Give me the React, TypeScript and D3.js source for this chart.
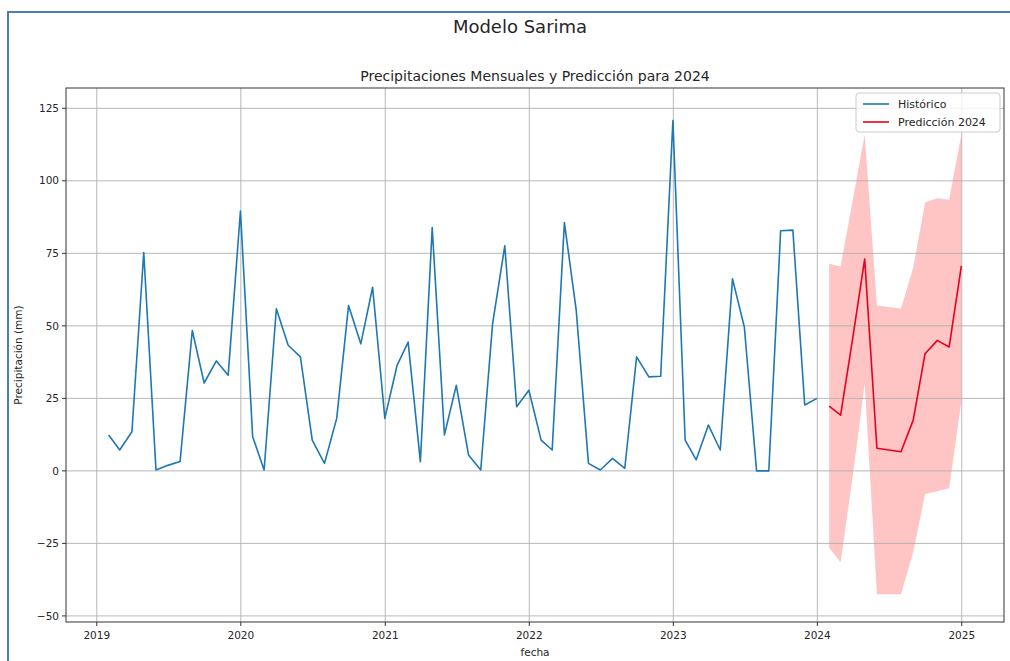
import * as d3 from "d3";

// meses del histórico (fin de mes)
const mesesHistorico = [
  "2019-01", "2019-02", "2019-03", "2019-04", "2019-05", "2019-06", "2019-07", "2019-08", "2019-09", "2019-10", "2019-11", "2019-12",
  "2020-01", "2020-02", "2020-03", "2020-04", "2020-05", "2020-06", "2020-07", "2020-08", "2020-09", "2020-10", "2020-11", "2020-12",
  "2021-01", "2021-02", "2021-03", "2021-04", "2021-05", "2021-06", "2021-07", "2021-08", "2021-09", "2021-10", "2021-11", "2021-12",
  "2022-01", "2022-02", "2022-03", "2022-04", "2022-05", "2022-06", "2022-07", "2022-08", "2022-09", "2022-10", "2022-11", "2022-12",
  "2023-01", "2023-02", "2023-03", "2023-04", "2023-05", "2023-06", "2023-07", "2023-08", "2023-09", "2023-10", "2023-11", "2023-12",
];

const precipHistorico = [
  12.4, 7.2, 13.5, 75.3, 0.3, 1.9, 3.2, 48.4, 30.3, 37.9, 33.0, 89.6,
  11.8, 0.3, 55.9, 43.3, 39.3, 10.6, 2.6, 18.1, 57.0, 43.8, 63.3, 18.1,
  36.4, 44.4, 3.2, 83.9, 12.4, 29.5, 5.5, 0.3, 50.7, 77.6, 22.1, 27.8,
  10.6, 7.2, 85.6, 55.3, 2.6, 0.3, 4.3, 0.9, 39.3, 32.4, 32.6, 120.8,
  10.6, 3.8, 15.8, 7.2, 66.2, 49.6, 0.0, 0.0, 82.8, 83.0, 22.7, 25.0,
];

const mesesPrediccion = [
  "2024-01", "2024-02", "2024-03", "2024-04", "2024-05", "2024-06",
  "2024-07", "2024-08", "2024-09", "2024-10", "2024-11", "2024-12",
];

const precipPrediccion = [22.3, 19.2, 46.0, 73.0, 7.8, 7.2, 6.6, 17.5, 40.4, 45.0, 42.7, 70.7];
const limiteInferior = [-26.5, -31.5, -1.5, 30.0, -42.5, -42.5, -42.5, -28.0, -8.0, -7.0, -6.0, 24.0];
const limiteSuperior = [71.4, 70.5, 93.5, 116.0, 57.0, 56.5, 56.0, 70.0, 92.5, 94.0, 93.5, 116.0];

const ticksY = [-50, -25, 0, 25, 50, 75, 100, 125];
const ticksAnios = ["2019", "2020", "2021", "2022", "2023", "2024", "2025"];

const width = 1010;
const height = 661;
const margin = { top: 88, right: 6, bottom: 39, left: 66 };

const font = "DejaVu Sans, sans-serif";
const textColor = "#262626";

const parseMes = d3.timeParse("%Y-%m");
// fin de mes, como los índices mensuales de pandas
const finDeMes = (m: string) => d3.timeDay.offset(d3.timeMonth.offset(parseMes(m) as Date, 1), -1);

export default function App() {
  const historico = mesesHistorico.map((m, i) => ({ fecha: finDeMes(m), valor: precipHistorico[i] }));
  const prediccion = mesesPrediccion.map((m, i) => ({
    fecha: finDeMes(m),
    valor: precipPrediccion[i],
    inf: limiteInferior[i],
    sup: limiteSuperior[i],
  }));

  // margen automático del 5% en x, como matplotlib
  const [x0, x1] = d3.extent([...historico, ...prediccion], (d) => d.fecha.getTime()) as [number, number];
  const pad = (x1 - x0) * 0.05;
  const xScale = d3
    .scaleTime()
    .domain([new Date(x0 - pad), new Date(x1 + pad)])
    .range([margin.left, width - margin.right]);

  const yScale = d3
    .scaleLinear()
    .domain([-52.1, 132.0])
    .range([height - margin.bottom, margin.top]);

  const linea = d3
    .line<{ fecha: Date; valor: number }>()
    .x((d) => xScale(d.fecha))
    .y((d) => yScale(d.valor));

  const banda = d3
    .area<{ fecha: Date; inf: number; sup: number }>()
    .x((d) => xScale(d.fecha))
    .y0((d) => yScale(d.inf))
    .y1((d) => yScale(d.sup));

  const left = margin.left;
  const right = width - margin.right;
  const top = margin.top;
  const bottom = height - margin.bottom;

  const legendX = 856;
  const legendY = 93;

  return (
    <svg
      width={width}
      height={height}
      style={{ position: "absolute", left: 0, top: 0, background: "#fff" }}
      fontFamily={font}
    >
      {/* marco azul del documento */}
      <rect x={8} y={12} width={width + 20} height={height + 20} fill="none" stroke="#4a7ebb" strokeWidth={2} />

      <text x={520} y={33} textAnchor="middle" fontSize={18} fill={textColor}>
        Modelo Sarima
      </text>
      <text x={(left + right) / 2} y={81} textAnchor="middle" fontSize={14} fill={textColor}>
        Precipitaciones Mensuales y Predicción para 2024
      </text>

      {/* intervalo de confianza */}
      <path d={banda(prediccion) || ""} fill="#ff0000" fillOpacity={0.23} stroke="none" />

      {/* grid */}
      {ticksY.map((t) => (
        <line key={"gy" + t} x1={left} x2={right} y1={yScale(t)} y2={yScale(t)} stroke="#b0b0b0" strokeWidth={0.9} />
      ))}
      {ticksAnios.map((a) => {
        const xx = xScale(parseMes(a + "-01") as Date);
        return <line key={"gx" + a} x1={xx} x2={xx} y1={top} y2={bottom} stroke="#b0b0b0" strokeWidth={0.9} />;
      })}

      <path d={linea(historico) || ""} fill="none" stroke="#1f77b4" strokeWidth={1.6} strokeLinejoin="round" />
      <path d={linea(prediccion) || ""} fill="none" stroke="#e8001c" strokeWidth={1.6} strokeLinejoin="round" />

      {/* ejes */}
      <rect x={left} y={top} width={right - left} height={bottom - top} fill="none" stroke="#333" strokeWidth={1} />

      {ticksY.map((t) => (
        <g key={"ty" + t}>
          <line x1={left - 4} x2={left} y1={yScale(t)} y2={yScale(t)} stroke="#333" strokeWidth={1} />
          <text x={left - 7} y={yScale(t)} dy="0.35em" textAnchor="end" fontSize={10.5} fill={textColor}>
            {t < 0 ? "\u2212" + Math.abs(t) : t}
          </text>
        </g>
      ))}
      {ticksAnios.map((a) => {
        const xx = xScale(parseMes(a + "-01") as Date);
        return (
          <g key={"tx" + a}>
            <line x1={xx} x2={xx} y1={bottom} y2={bottom + 4} stroke="#333" strokeWidth={1} />
            <text x={xx} y={bottom + 17} textAnchor="middle" fontSize={10.5} fill={textColor}>
              {a}
            </text>
          </g>
        );
      })}

      <text x={(left + right) / 2} y={656} textAnchor="middle" fontSize={10.5} fill={textColor}>
        fecha
      </text>
      <text
        transform={`translate(22,${(top + bottom) / 2}) rotate(-90)`}
        textAnchor="middle"
        fontSize={10.5}
        fill={textColor}
      >
        Precipitación (mm)
      </text>

      {/* leyenda */}
      <rect
        x={legendX}
        y={legendY}
        width={144}
        height={39}
        rx={3}
        fill="#fff"
        fillOpacity={0.8}
        stroke="#cccccc"
        strokeWidth={1}
      />
      <line x1={legendX + 7} x2={legendX + 33} y1={104} y2={104} stroke="#1f77b4" strokeWidth={1.6} />
      <text x={legendX + 42} y={104} dy="0.35em" fontSize={11} fill={textColor}>
        Histórico
      </text>
      <line x1={legendX + 7} x2={legendX + 33} y1={122} y2={122} stroke="#e8001c" strokeWidth={1.6} />
      <text x={legendX + 42} y={122} dy="0.35em" fontSize={11} fill={textColor}>
        Predicción 2024
      </text>
    </svg>
  );
}
